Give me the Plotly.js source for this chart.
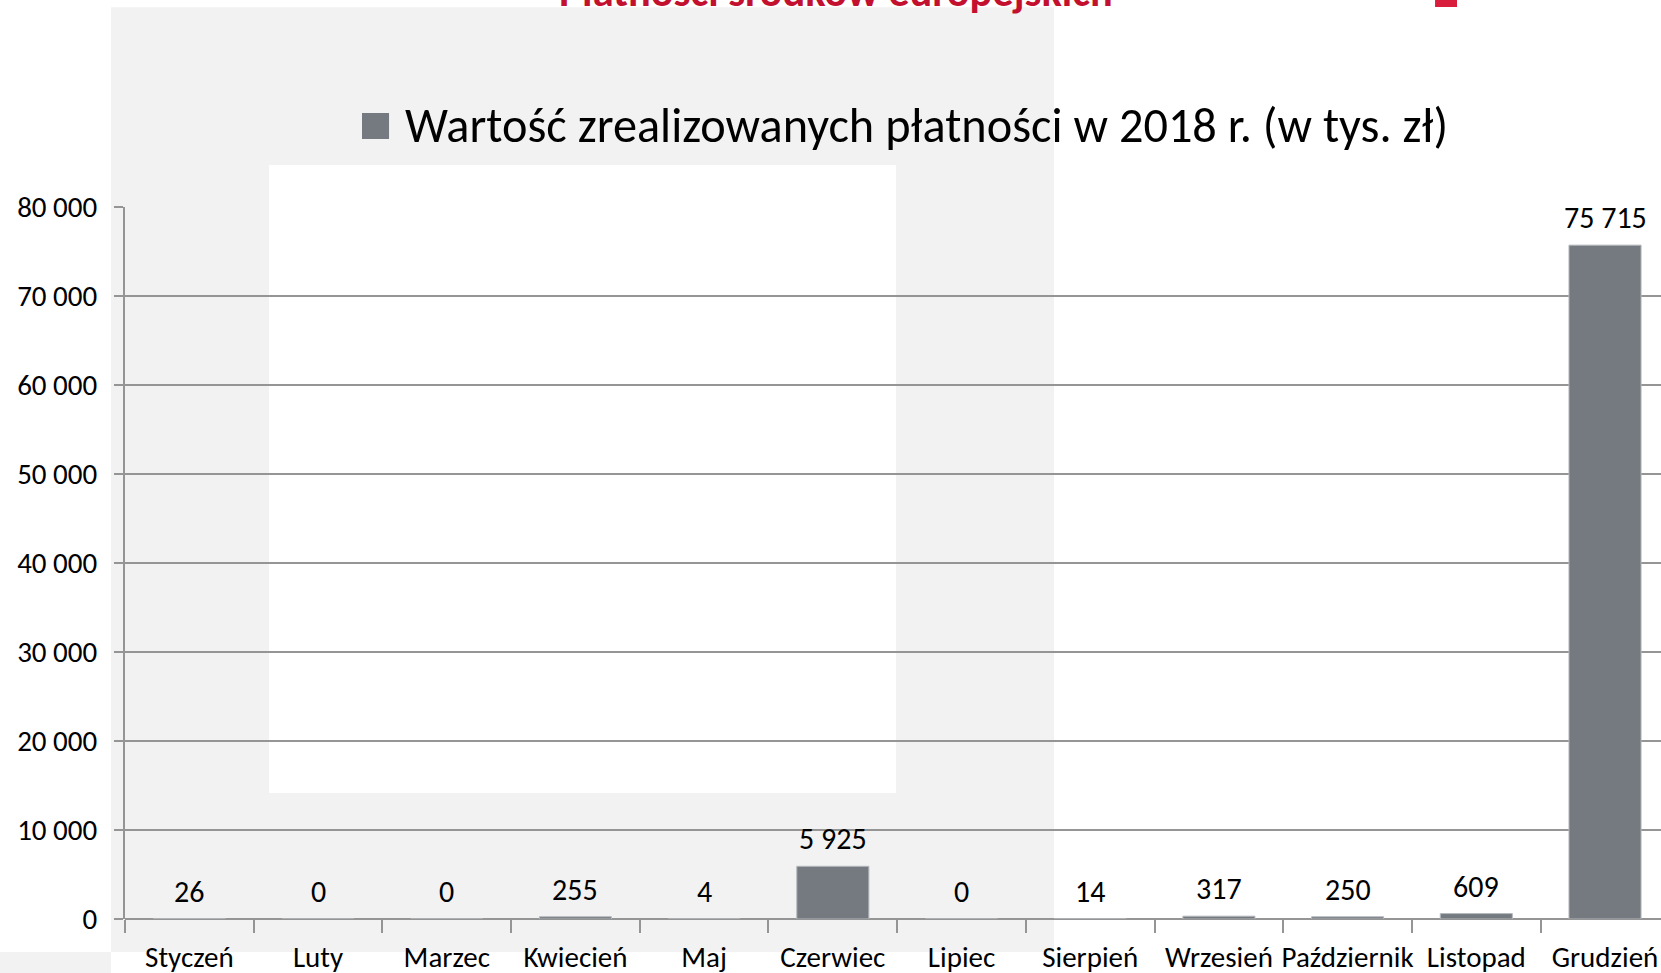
<!DOCTYPE html>
<html>
<head>
<meta charset="utf-8">
<script src="https://cdn.plot.ly/plotly-3.0.1.min.js"></script>
<style>html,body{margin:0;padding:0;background:#fff;}#chart{width:1661px;height:973px;}</style>
</head>
<body>
<div id="chart"></div>
<script>
const months = ["Styczeń","Luty","Marzec","Kwiecień","Maj","Czerwiec","Lipiec","Sierpień","Wrzesień","Październik","Listopad","Grudzień"];
const values = [26, 0, 0, 255, 4, 5925, 0, 14, 317, 250, 609, 75715];
const seriesName = "Wartość zrealizowanych płatności w 2018 r. (w tys. zł)";
const pageTitle = "Płatności środków europejskich";
const yTicks = [0, 10000, 20000, 30000, 40000, 50000, 60000, 70000, 80000];

const FONT = "Carlito, 'Liberation Sans Narrow', 'Liberation Sans', sans-serif";
const BAR = "#747a80";
const GRID = "#959595";

function fmt(v){ return String(v).replace(/\B(?=(\d{3})+(?!\d))/g, " "); }

const trace = {
  type: "bar",
  x: months,
  y: values,
  name: seriesName,
  marker: {color: BAR, line: {color: "#b5b8bc", width: 1}},
  showlegend: false,
  hoverinfo: "x+y"
};

const annotations = months.map((m, i) => ({
  x: m, y: values[i], xref: "x", yref: "y",
  text: fmt(values[i]), showarrow: false,
  yanchor: "bottom", yshift: 7,
  font: {family: FONT, size: 30, color: "#000"}
}));
annotations.push({
  xref: "paper", yref: "paper", x: 0.181, y: 1.1138,
  xanchor: "left", yanchor: "middle", showarrow: false,
  text: seriesName, font: {family: FONT, size: 48.3, color: "#000"}
});
annotations.push({
  xref: "paper", yref: "paper", x: 0.4629, y: 1.2641,
  xanchor: "center", yanchor: "bottom", showarrow: false,
  text: "<b>" + pageTitle + "</b>", font: {family: FONT, size: 42.4, color: "#c4102f"}
});

const shapes = [
  {type:"rect", xref:"paper", yref:"paper", x0:-0.00911, x1:0.6048, y0:-0.04635, y1:1.2805, fillcolor:"#f2f2f2", line:{width:0}, layer:"below"},
  {type:"rect", xref:"paper", yref:"paper", x0:0.09375, x1:0.50195, y0:0.17697, y1:1.0590, fillcolor:"#ffffff", line:{width:0}, layer:"below"},
  {type:"rect", xref:"paper", yref:"paper", x0:-0.0814, x1:-0.00911, y0:-0.0759, y1:-0.04635, fillcolor:"#f2f2f2", line:{width:0}, layer:"below"},
  {type:"rect", xref:"paper", yref:"paper", x0:0.8529, x1:0.8672, y0:1.2809, y1:1.30, fillcolor:"#d81e3c", line:{width:0}, layer:"below"},
  {type:"rect", xref:"paper", yref:"paper", x0:0.1543, x1:0.1719, y0:1.0955, y1:1.1320, fillcolor:BAR, line:{width:0}}
];

const layout = {
  width: 1661, height: 973,
  margin: {l: 125, r: 0, t: 207, b: 54, pad: 0},
  paper_bgcolor: "rgba(0,0,0,0)",
  plot_bgcolor: "rgba(0,0,0,0)",
  separators: ", ",
  bargap: 0.44,
  font: {family: FONT, size: 29, color: "#000"},
  xaxis: {
    type: "category", range: [-0.5, 11.435],
    showgrid: false, showline: false, zeroline: false,
    ticks: "outside", tickson: "boundaries", ticklen: 13, tickwidth: 2, tickcolor: GRID,
    tickangle: 0, automargin: false,
    tickfont: {family: FONT, size: 29, color: "#000"},
    ticklabelstandoff: 18
  },
  yaxis: {
    range: [0, 80000], tickvals: yTicks, ticktext: yTicks.map(fmt),
    showgrid: true, gridcolor: GRID, gridwidth: 2,
    zeroline: true, zerolinecolor: GRID, zerolinewidth: 2,
    showline: true, linecolor: GRID, linewidth: 2,
    ticks: "outside", ticklen: 9, tickwidth: 2, tickcolor: GRID,
    tickfont: {family: FONT, size: 29, color: "#000"},
    ticklabelstandoff: 11, automargin: false
  },
  shapes: shapes,
  annotations: annotations
};

Plotly.newPlot("chart", [trace], layout, {displayModeBar: false, staticPlot: true});
</script>
</body>
</html>
